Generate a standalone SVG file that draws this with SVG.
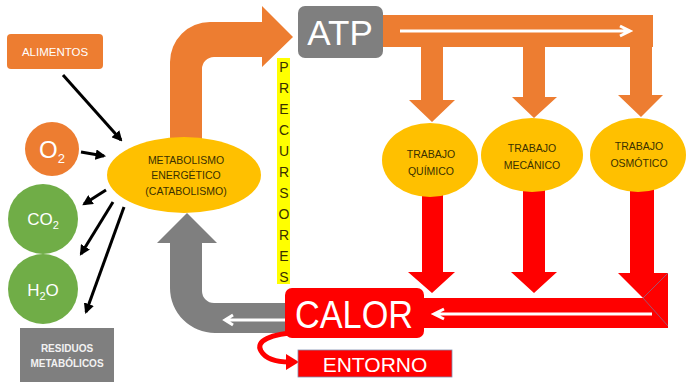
<svg xmlns="http://www.w3.org/2000/svg" width="688" height="382" viewBox="0 0 688 382">
<style>
.t{font-family:"Liberation Sans","Open Sans",Arial,sans-serif;text-anchor:middle}
.w{fill:#ffffff}
.d{fill:#3a3000}
.or{fill:#ED7D31}
.rd{fill:#FF0000}
.gy{fill:#7F7F7F}
.gold{fill:#FFC000}
.gr{fill:#70AD47}
.blk{stroke:#000;stroke-width:3;fill:none;marker-end:url(#ah)}
.wl{stroke:#fff;stroke-width:3;fill:none}
</style>
<defs>
<marker id="ah" viewBox="0 0 10 10" refX="8" refY="5" markerWidth="3.5" markerHeight="3.5" orient="auto"><path d="M0,0 L10,5 L0,10 Z" fill="#000"/></marker>
</defs>
<rect width="688" height="382" fill="#fff"/>
<g id="connectors">
<path class="or" d="M170,150 L170,62 A40,40 0 0 1 210,22 L262,22 L262,6 L293,37 L262,67 L262,57 L214,57 A12,12 0 0 0 202,69 L202,150 Z"/>
<path class="gy" d="M202,243 L202,291 A12,12 0 0 0 214,303 L290,303 L290,333 L215,333 A45,45 0 0 1 170,288 L170,243 L157,243 L187,213 L217,243 Z"/>
<path class="wl" d="M285,320 L226,320 M233,315 L225,320 L233,325"/>
<rect class="or" x="380" y="15" width="273" height="32"/>
<path class="wl" d="M400,31 L628,31 M620,26 L630,31 L620,36"/>
<path class="or" d="M421,47 L443,47 L443,100 L455,100 L432,122 L409,100 L421,100 Z"/>
<path class="or" d="M523,47 L545,47 L545,97 L557,97 L534,118 L512,97 L523,97 Z"/>
<path class="or" d="M630,47 L652,47 L652,95 L663,95 L641,117 L618,95 L630,95 Z"/>
<path class="rd" d="M422,190 L443,190 L443,272 L455,272 L432,293 L408,272 L422,272 Z"/>
<path class="rd" d="M523,188 L545,188 L545,272 L557,272 L534,293 L511,272 L523,272 Z"/>
<path class="rd" d="M630,188 L654,188 L654,273 L668,273 L668,328 L420,328 L420,298 L643,298 L618,273 L630,273 Z"/>
<path d="M643,298 L668,273 M643,298 L668,326" stroke="#8a6a8a" stroke-width="0.8" fill="none"/>
<path class="wl" d="M652,314 L436,314 M444,309 L434,314 L444,319"/>
<path d="M300,332 C270,334 255,341 261,351 C265,358 275,362 290,362" stroke="#FF0000" stroke-width="5" fill="none"/>
<path class="rd" d="M286,354 L299,362 L286,370 Z"/>
<line class="blk" x1="63" y1="75" x2="121" y2="140"/>
<line class="blk" x1="81" y1="152" x2="104" y2="156"/>
<line class="blk" x1="106" y1="190" x2="84" y2="204"/>
<line class="blk" x1="113" y1="202" x2="81" y2="254"/>
<line class="blk" x1="124" y1="207" x2="86" y2="312"/>
</g>
<g id="alimentos"><rect class="or" x="7" y="34" width="96" height="35" rx="4"/><text class="t w" x="55" y="56" font-size="11.5">ALIMENTOS</text></g>
<g id="o2"><circle class="or" cx="52" cy="149" r="27"/><text class="t w" x="52" y="158" font-size="24">O<tspan font-size="13" dy="5">2</tspan></text></g>
<g id="co2"><circle class="gr" cx="43" cy="219" r="35"/><text class="t w" x="43" y="225" font-size="17">CO<tspan font-size="11" dy="4">2</tspan></text></g>
<g id="h2o"><circle class="gr" cx="43" cy="289" r="35"/><text class="t w" x="43" y="296" font-size="17">H<tspan font-size="11" dy="4">2</tspan><tspan dy="-4">O</tspan></text></g>
<g id="residuos"><rect class="gy" x="20" y="328" width="94" height="54"/><text class="t" fill="#f2f2f2" font-weight="bold" font-size="10" x="67" y="352">RESIDUOS</text><text class="t" fill="#f2f2f2" font-weight="bold" font-size="10" x="67" y="367">METABÓLICOS</text></g>
<g id="metabolismo"><ellipse class="gold" cx="184" cy="175" rx="77" ry="38"/><text class="t d" font-size="10.5" x="186" y="164">METABOLISMO</text><text class="t d" font-size="10.5" x="186" y="179">ENERGÉTICO</text><text class="t d" font-size="10.5" x="186" y="195">(CATABOLISMO)</text></g>
<g id="precursores"><rect x="277" y="58" width="13" height="226" fill="#FFFF00"/>
<g class="t d" font-size="14"><text x="284" y="72">P</text><text x="284" y="93">R</text><text x="284" y="114">E</text><text x="284" y="135">C</text><text x="284" y="156">U</text><text x="284" y="177">R</text><text x="284" y="198">S</text><text x="284" y="219">O</text><text x="284" y="240">R</text><text x="284" y="261">E</text><text x="284" y="282">S</text></g></g>
<g id="atp"><rect class="gy" x="298" y="6" width="85" height="52" rx="7"/><text class="t w" x="340" y="45" font-size="35">ATP</text></g>
<g id="quimico"><ellipse class="gold" cx="430" cy="160" rx="48" ry="37"/><text class="t d" font-size="10.5" x="431" y="158">TRABAJO</text><text class="t d" font-size="10.5" x="431" y="175">QUÍMICO</text></g>
<g id="mecanico"><ellipse class="gold" cx="532" cy="155" rx="51" ry="37"/><text class="t d" font-size="10.5" x="532" y="152">TRABAJO</text><text class="t d" font-size="10.5" x="532" y="169">MECÁNICO</text></g>
<g id="osmotico"><ellipse class="gold" cx="638" cy="155" rx="48" ry="37"/><text class="t d" font-size="10.5" x="639" y="150">TRABAJO</text><text class="t d" font-size="10.5" x="639" y="167">OSMÓTICO</text></g>
<g id="calor"><rect class="rd" x="285" y="288" width="139" height="50" rx="7"/><text class="t w" x="354" y="328" font-size="38" textLength="118" lengthAdjust="spacingAndGlyphs">CALOR</text></g>
<g id="entorno"><rect class="rd" x="298" y="350" width="154" height="27" stroke="#8090b0" stroke-width="0.8"/><text class="t w" x="375" y="372" font-size="21">ENTORNO</text></g>
</svg>
